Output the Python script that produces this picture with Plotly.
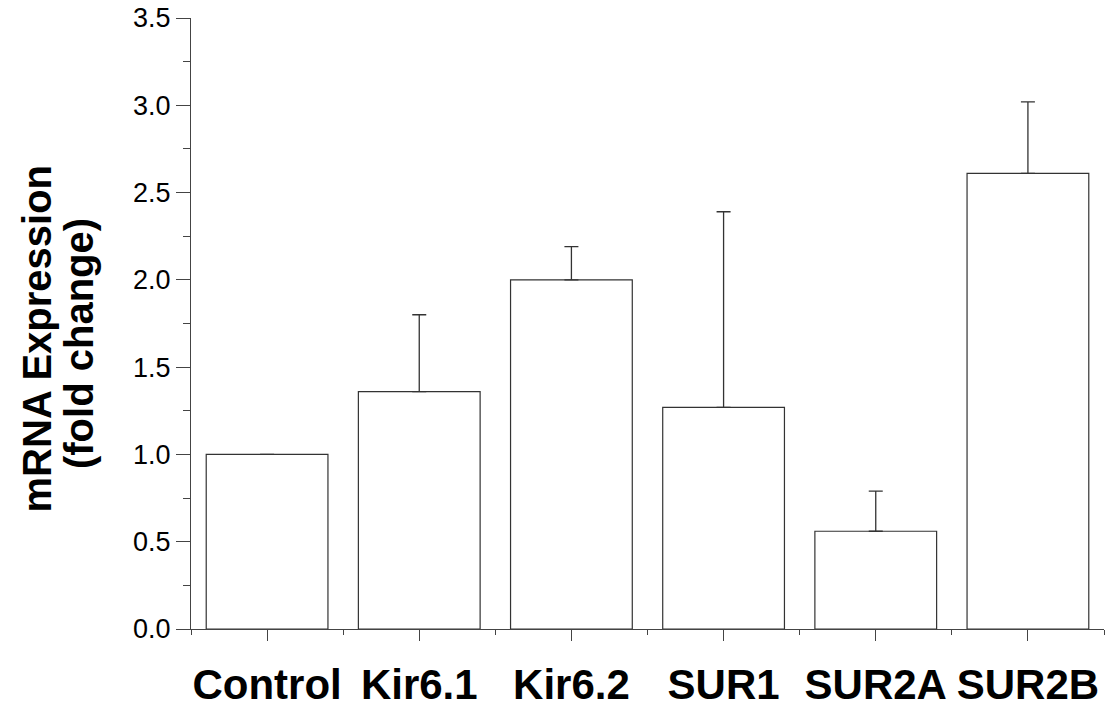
import plotly.graph_objects as go

categories = ["Control", "Kir6.1", "Kir6.2", "SUR1", "SUR2A", "SUR2B"]
values = [1.0, 1.36, 2.0, 1.27, 0.56, 2.61]
errors = [0.0, 0.44, 0.19, 1.12, 0.23, 0.41]
y_ticks = [0.0, 0.5, 1.0, 1.5, 2.0, 2.5, 3.0, 3.5]
y_tick_labels = ["0.0", "0.5", "1.0", "1.5", "2.0", "2.5", "3.0", "3.5"]
title_lines = ["mRNA Expression", "(fold change)"]

xpos = list(range(len(categories)))
boundaries = [i - 0.5 for i in range(len(categories) + 1)]

FONT = "Liberation Sans, Arial, sans-serif"

fig = go.Figure()
fig.add_trace(go.Bar(
    x=xpos, y=values, width=0.8,
    marker=dict(color="white", line=dict(color="#333333", width=1.2)),
    error_y=dict(type="data", array=errors, arrayminus=[0] * len(errors),
                 symmetric=False, color="#333333", thickness=1.3, width=7),
    showlegend=False,
))

fig.update_layout(
    width=1120, height=706,
    margin=dict(l=191, r=16, t=18, b=77, autoexpand=False),
    plot_bgcolor="white", paper_bgcolor="white",
    font=dict(family=FONT, color="black"),
)
fig.update_xaxes(
    range=[-0.5, 5.5], showline=True, linecolor="#444444", linewidth=1.2,
    tickmode="array", tickvals=xpos, ticktext=categories,
    ticks="outside", ticklen=11, tickcolor="#444444", tickwidth=1.2,
    tickfont=dict(size=42, family=FONT, color="black", weight="bold"),
    ticklabelstandoff=7,
    minor=dict(tickmode="array", tickvals=boundaries, ticks="outside", ticklen=5,
               tickcolor="#444444", tickwidth=1.2),
    showgrid=False, zeroline=False,
)
fig.update_yaxes(
    range=[0, 3.5], showline=True, linecolor="#444444", linewidth=1.2,
    tickmode="array", tickvals=y_ticks, ticktext=y_tick_labels,
    ticks="outside", ticklen=14, tickcolor="#444444", tickwidth=1.2,
    tickfont=dict(size=27, family=FONT, color="black"),
    ticklabelstandoff=0,
    minor=dict(tickmode="linear", tick0=0.25, dtick=0.5, ticks="outside", ticklen=7,
               tickcolor="#444444", tickwidth=1.2),
    showgrid=False, zeroline=False,
)

for text, xp, yp in zip(title_lines, [-0.1687, -0.1227], [0.4755, 0.468]):
    fig.add_annotation(
        text="<b>" + text + "</b>",
        xref="paper", yref="paper", x=xp, y=yp,
        xanchor="center", yanchor="middle", textangle=-90, showarrow=False,
        font=dict(size=40, color="black", family=FONT),
    )

fig.write_html("out.html", config={"displayModeBar": False},
               post_script="document.body.style.margin='0';")
